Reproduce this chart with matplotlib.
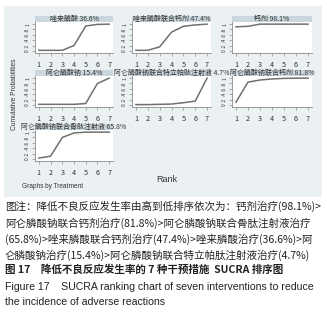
import matplotlib
matplotlib.use("Agg")
import matplotlib.pyplot as plt
from matplotlib.patches import Rectangle

plt.rcParams['font.family'] = ['Noto Sans CJK SC', 'DejaVu Sans']

# data
ranks = [1, 2, 3, 4, 5, 6, 7]
treatments = ['唑来膦酸', '唑来膦酸联合钙剂', '钙剂',
              '阿仑膦酸钠', '阿仑膦酸钠联合特立帕肽注射液', '阿仑膦酸钠联合钙剂',
              '阿仑膦酸钠联合骨肽注射液']
sucra = ['36.6%', '47.4%', '98.1%', '15.4%', '4.7%', '81.8%', '65.8%']
cum_zol = [0.02, 0.02, 0.02, 0.20, 0.93, 0.99, 1.0]
cum_zol_ca = [0.02, 0.02, 0.15, 0.70, 0.92, 0.97, 1.0]
cum_ca = [0.90, 0.92, 1.0, 1.0, 1.0, 1.0, 1.0]
cum_aln = [0.02, 0.02, 0.02, 0.02, 0.05, 0.80, 1.0]
cum_aln_teri = [0.01, 0.01, 0.02, 0.03, 0.08, 0.14, 1.0]
cum_aln_ca = [0.10, 0.85, 0.93, 0.97, 0.99, 1.0, 1.0]
cum_aln_pep = [0.03, 0.10, 0.80, 0.97, 1.0, 1.0, 1.0]
curves = [cum_zol, cum_zol_ca, cum_ca, cum_aln, cum_aln_teri, cum_aln_ca, cum_aln_pep]
yticks = [0, 0.2, 0.4, 0.6, 0.8, 1]
ytick_labels = ['0', '.2', '.4', '.6', '.8', '1']

caption = [
    '图注：降低不良反应发生率由高到低排序依次为：钙剂治疗(98.1%)>',
    '阿仑膦酸钠联合钙剂治疗(81.8%)>阿仑膦酸钠联合骨肽注射液治疗',
    '(65.8%)>唑来膦酸联合钙剂治疗(47.4%)>唑来膦酸治疗(36.6%)>阿',
    '仑膦酸钠治疗(15.4%)>阿仑膦酸钠联合特立帕肽注射液治疗(4.7%)',
]
fig_title_cn = '图 17　降低不良反应发生率的 7 种干预措施  SUCRA 排序图'
fig_title_en = ['Figure 17    SUCRA ranking chart of seven interventions to reduce',
                'the incidence of adverse reactions']

W, H = 327, 312
fig = plt.figure(figsize=(W / 100, H / 100), dpi=100)
fig.patch.set_facecolor('white')


def rect(x0, y0, x1, y1):
    return [x0 / W, 1 - y1 / H, (x1 - x0) / W, (y1 - y0) / H]


# grey graph region
fig.patches.append(Rectangle((4 / W, 1 - 197 / H), 318 / W, 191 / H,
                             transform=fig.transFigure, facecolor='#ebf0f2',
                             edgecolor='none', zorder=-5))

cols = [(35, 113), (132, 211), (232, 312)]
line_col = '#707070'
axis_col = '#8c8c8c'

for i, (name, s, cum) in enumerate(zip(treatments, sucra, curves)):
    r, c = divmod(i, 3)
    x0, x1 = cols[c]
    top = 22 + 54 * r
    ax = fig.add_axes(rect(x0, top, x1, top + 31))
    ax.set_zorder(2)
    ax.set_facecolor('white')
    ax.plot(ranks, cum, color=line_col, lw=1.1)
    ax.set_xlim(0.67, 7.33)
    ax.set_ylim(-0.08, 1.08)
    ax.set_xticks(ranks)
    ax.set_yticks(yticks)
    ax.set_yticklabels(ytick_labels, rotation=90, va='center')
    for sp in ['top', 'right']:
        ax.spines[sp].set_visible(False)
    for sp in ['left', 'bottom']:
        ax.spines[sp].set_color(axis_col)
        ax.spines[sp].set_linewidth(0.6)
    ax.tick_params(axis='x', length=2.5, width=0.5, color=axis_col, pad=3,
                   labelsize=5.2, labelcolor='#333333')
    ax.tick_params(axis='y', length=2, width=0.5, color=axis_col, pad=1.5,
                   labelsize=3.6, labelcolor='#333333')
    # title strip
    sx = fig.add_axes(rect(x0, top - 6.5, x1, top))
    sx.set_zorder(3)
    sx.set_facecolor('#cbd7de')
    sx.set_xticks([])
    sx.set_yticks([])
    for sp in sx.spines.values():
        sp.set_visible(False)
    sx.text(0.5, 0.5, name + ' ' + s, transform=sx.transAxes,
            ha='center', va='center', fontsize=5.0, color='#333333',
            clip_on=False)

fig.text(15 / W, 1 - 94 / H, 'Cumulative Probabilities', rotation=90,
         ha='center', va='center', fontsize=4.8, color='#333333',
         family=['Liberation Sans'])
fig.text(167 / W, 1 - 180 / H, 'Rank', ha='center', va='center', fontsize=6.5,
         color='#333333', family=['Liberation Sans'])
fig.text(22 / W, 1 - 187 / H, 'Graphs by Treatment', ha='left', va='center',
         fontsize=4.7, color='#333333', family=['Liberation Sans'])

# caption
ys = [206, 223, 239, 255]
for y, line in zip(ys, caption):
    fig.text(5 / W, 1 - y / H, line, ha='left', va='center', fontsize=7.6,
             color='#222222')
fig.text(5 / W, 1 - 270 / H, fig_title_cn, ha='left', va='center',
         fontsize=7.6, color='#222222', fontweight='bold')
fig.text(5 / W, 1 - 287 / H, fig_title_en[0], ha='left', va='center',
         fontsize=7.6, color='#222222', family=['Liberation Sans'])
fig.text(5 / W, 1 - 302 / H, fig_title_en[1], ha='left', va='center',
         fontsize=7.6, color='#222222', family=['Liberation Sans'])

fig.savefig('out.png', dpi=100)
